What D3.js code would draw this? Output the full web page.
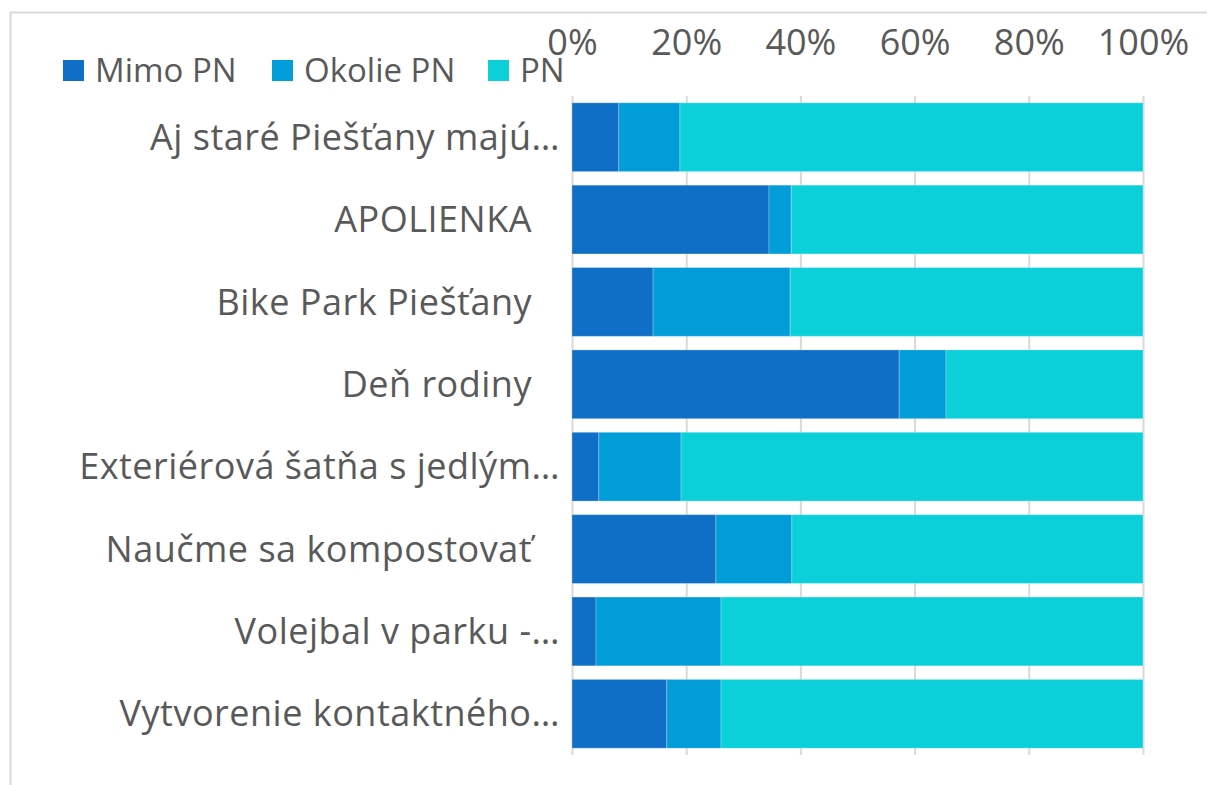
<!DOCTYPE html>
<html>
<head>
<meta charset="utf-8">
<script src="https://cdn.jsdelivr.net/npm/d3@7"></script>
<style>
  body { margin: 0; background: #fff; }
  svg text { font-family: "Open Sans", sans-serif; fill: #595959; }
</style>
</head>
<body>
<div id="chart"></div>
<script>
(function() {
  'use strict';

  // data (shares in %)
  var categories = [
    'Aj staré Piešťany majú…',
    'APOLIENKA',
    'Bike Park Piešťany',
    'Deň rodiny',
    'Exteriérová šatňa s jedlým…',
    'Naučme sa kompostovať',
    'Volejbal v parku -…',
    'Vytvorenie kontaktného…'
  ];
  var seriesNames = ['Mimo PN', 'Okolie PN', 'PN'];
  var mimoPN   = [8.2, 34.5, 14.2, 57.3, 4.7, 25.2, 4.2, 16.6];
  var okoliePN = [10.7, 3.9, 24.0, 8.2, 14.4, 13.3, 21.9, 9.5];
  var pn       = [81.1, 61.6, 61.8, 34.5, 80.9, 61.5, 73.9, 73.9];
  var tickValues = [0, 0.2, 0.4, 0.6, 0.8, 1];

  var colors = ['#0f6fc6', '#009dd9', '#0bd0d9'];
  var width = 1207, height = 785;
  var margin = {top: 96, right: 64, bottom: 30, left: 572};

  var svg = d3.select('#chart')
      .append('svg')
    .attr('width', width)
    .attr('height', height);

  // chart frame (cropped at right and bottom)
  svg.append('rect')
    .attr('x', 10.5)
    .attr('y', 12.5)
    .attr('width', width + 20)
    .attr('height', height + 20)
    .attr('fill', '#fff')
    .attr('stroke', '#d9d9d9')
    .attr('stroke-width', 2);

  var rows = categories.map(function(c, i) {
    return {cat: c, 'Mimo PN': mimoPN[i], 'Okolie PN': okoliePN[i], 'PN': pn[i]};
  });
  // normalise to 100% stacked
  rows.forEach(function(r) {
    var t = r['Mimo PN'] + r['Okolie PN'] + r['PN'];
    seriesNames.forEach(function(k) { r[k] = r[k] / t; });
  });

  var x = d3.scaleLinear()
    .domain([0, 1])
    .range([margin.left, width - margin.right]);

  var y = d3.scaleBand()
    .domain(categories)
    .range([margin.top, 755])
    .paddingInner(0.165)
    .paddingOuter(0.0825);

  // gridlines + top tick labels
  var axis = svg.append('g')
    .attr('transform', 'translate(0,' + margin.top + ')')
    .call(d3.axisTop(x)
      .tickValues(tickValues)
      .tickFormat(d3.format('.0%'))
      .tickSize(-(755 - margin.top))
      .tickSizeOuter(0)
      .tickPadding(41));
  axis.select('.domain').remove();
  axis.selectAll('.tick line')
    .attr('stroke', '#d9d9d9')
    .attr('stroke-width', 2);
  axis.selectAll('.tick text')
    .style('font-size', '36px')
    .attr('fill', '#595959');

  var stack = d3.stack().keys(seriesNames);
  var layers = stack(rows);

  svg.append('g')
    .selectAll('g')
    .data(layers)
    .join('g')
      .attr('fill', function(d, i) { return colors[i]; })
    .selectAll('rect')
    .data(function(d) { return d; })
    .join('rect')
      .attr('x', function(d) { return x(d[0]); })
      .attr('y', function(d) { return y(d.data.cat); })
      .attr('width', function(d) { return x(d[1]) - x(d[0]); })
      .attr('height', y.bandwidth())
      .attr('stroke', '#ffffff')
      .attr('stroke-opacity', 0.25)
      .attr('stroke-width', 1);

  // category labels
  svg.append('g')
    .selectAll('text')
    .data(categories)
    .join('text')
      .attr('x', function(d) { return /…$/.test(d) ? 560 : 532; })
      .attr('y', function(d) { return y(d) + y.bandwidth() / 2; })
      .attr('dy', '0.35em')
      .attr('text-anchor', 'end')
      .style('font-size', '36px')
      .style('letter-spacing', '0.5px')
      .text(function(d) { return d; });

  // legend
  var legendX = [63, 272, 488];
  var legend = svg.append('g')
    .selectAll('g')
    .data(seriesNames)
    .join('g')
      .attr('transform', function(d, i) { return 'translate(' + legendX[i] + ',60)'; });
  legend.append('rect')
    .attr('width', 21)
    .attr('height', 21)
    .attr('fill', function(d, i) { return colors[i]; });
  legend.append('text')
    .attr('x', 32)
    .attr('y', 10.5)
    .attr('dy', '0.35em')
    .style('font-size', '33px')
    .text(function(d) { return d; });
})();
</script>
</body>
</html>
